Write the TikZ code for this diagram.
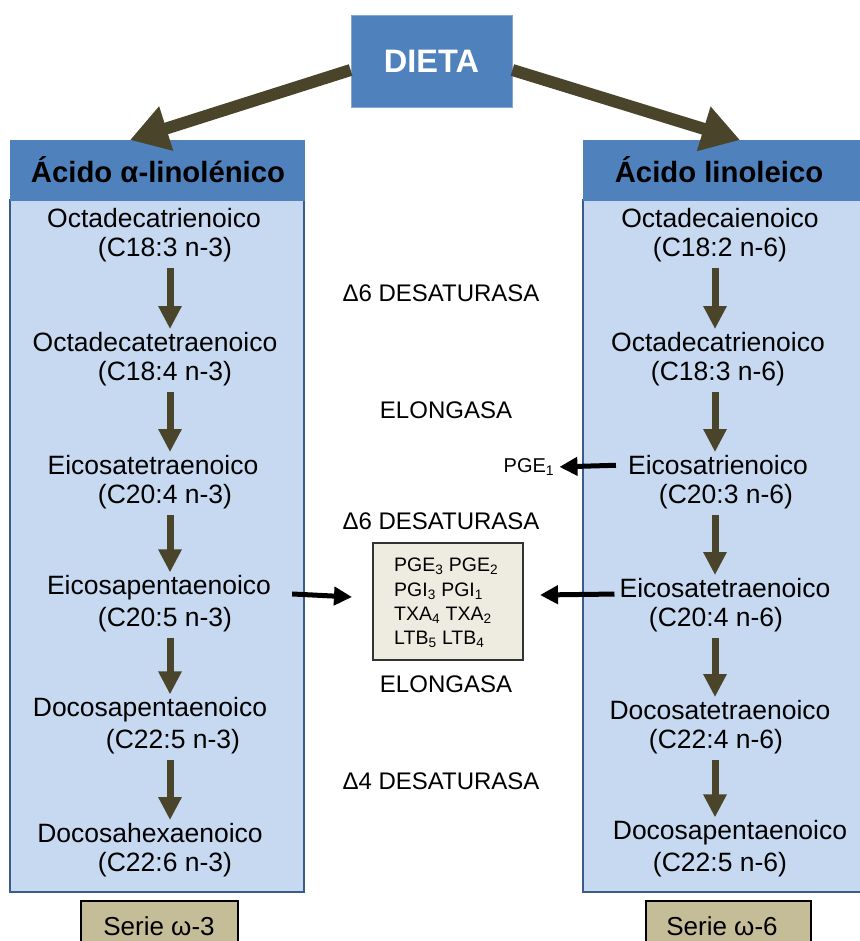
\documentclass[tikz,border=0pt]{standalone}
\usepackage{fontspec}
\setmainfont{Liberation Sans}
\usetikzlibrary{arrows.meta,calc}
\definecolor{dblue}{HTML}{4F81BD}
\definecolor{lblue}{HTML}{C6D9F1}
\definecolor{bblue}{HTML}{385D8A}
\definecolor{olivec}{HTML}{4A452A}
\definecolor{boxfill}{HTML}{EEECE1}
\definecolor{seriefill}{HTML}{C4BD97}
\begin{document}
\begin{tikzpicture}[x=1pt,y=-1pt,
  dieta/.style={fill=dblue,draw=dblue!70!white,line width=0.8pt,minimum width=161pt,minimum height=92pt,text=white,font=\fontsize{32.5}{38}\selectfont\bfseries},
  panelbody/.style={fill=lblue,draw=bblue,line width=1.5pt},
  panelhead/.style={fill=dblue,draw=dblue,line width=0.8pt,font=\fontsize{29.3}{34}\selectfont\bfseries},
  cname/.style={font=\fontsize{26.5}{31}\selectfont,inner sep=2pt},
  midlabel/.style={font=\fontsize{24}{29}\selectfont,inner sep=1pt},
  bigarrow/.style={draw=olivec,line width=12pt,-{Triangle[length=38pt,width=44pt]},fill=olivec},
  varrow/.style={draw=olivec,line width=7pt,-{Triangle[length=23pt,width=22pt]},fill=olivec},
  blkarrow/.style={draw=black,line width=5pt,-{Triangle[length=18pt,width=18pt]}},
  prodbox/.style={fill=boxfill,draw=black!80,line width=1.2pt,minimum width=150pt,minimum height=117pt,inner sep=0pt},
  seriebox/.style={fill=seriefill,draw=black,line width=1.2pt},
  serietxt/.style={font=\fontsize{26}{31}\selectfont}
]
\useasboundingbox (0,0) rectangle (859,941);

% DIETA
\node[dieta] (dieta) at (431.5,61) {DIETA};

% panels
\node[panelbody,minimum width=294pt,minimum height=692pt] (bodyL) at (157,546) {};
\node[panelhead,minimum width=294pt,minimum height=60pt] (hdrL) at (157,170) {};
\node[panelhead] (hdrLtxt) at (158,170) {Ácido α-linolénico};
\node[panelbody,minimum width=280pt,minimum height=692pt] (bodyR) at (723,546) {};
\node[panelhead,minimum width=280pt,minimum height=60pt] (hdrR) at (723,170) {};
\node[panelhead] (hdrRtxt) at (719,170) {Ácido linoleico};

% big arrows
\coordinate (tipL) at (130,140);
\coordinate (tipR) at (740,140);
\draw[bigarrow] ([yshift=-9pt]dieta.west) -- (tipL);
\draw[bigarrow] ([yshift=-9pt]dieta.east) -- (tipR);

% left column
\node[cname] (ln1) at (154,218) {Octadecatrienoico};
\node[cname] (lf1) at (165,250) {(C18:3 n-3)};
\node[cname] (ln2) at (155,342) {Octadecatetraenoico};
\node[cname] (lf2) at (165,374) {(C18:4 n-3)};
\node[cname] (ln3) at (153,465) {Eicosatetraenoico};
\node[cname] (lf3) at (165,497) {(C20:4 n-3)};
\node[cname] (ln4) at (159,588) {Eicosapentaenoico};
\node[cname] (lf4) at (165,620) {(C20:5 n-3)};
\node[cname] (ln5) at (150,710) {Docosapentaenoico};
\node[cname] (lf5) at (173,742) {(C22:5 n-3)};
\node[cname] (ln6) at (150,833) {Docosahexaenoico};
\node[cname] (lf6) at (165,865) {(C22:6 n-3)};

% right column
\node[cname] (rn1) at (720,218) {Octadecaienoico};
\node[cname] (rf1) at (720,250) {(C18:2 n-6)};
\node[cname] (rn2) at (718,342) {Octadecatrienoico};
\node[cname] (rf2) at (718,374) {(C18:3 n-6)};
\node[cname] (rn3) at (718,465) {Eicosatrienoico};
\node[cname] (rf3) at (726,497) {(C20:3 n-6)};
\node[cname] (rn4) at (725,588) {Eicosatetraenoico};
\node[cname] (rf4) at (716,620) {(C20:4 n-6)};
\node[cname] (rn5) at (720,710) {Docosatetraenoico};
\node[cname] (rf5) at (716,742) {(C22:4 n-6)};
\node[cname] (rn6) at (730,833) {Docosapentaenoico};
\node[cname] (rf6) at (720,865) {(C22:5 n-6)};

% vertical arrows
\coordinate (axL) at (170,0);
\coordinate (axR) at (715,0);
\foreach \a/\b in {1/2,2/3,3/4,4/5,5/6}{
  \draw[varrow,shorten <=3pt,shorten >=1pt] (lf\a.south -| axL) -- (ln\b.north -| axL);
  \draw[varrow,shorten <=3pt,shorten >=1pt] (rf\a.south -| axR) -- (rn\b.north -| axR);
}

% middle labels
\node[midlabel] (m1) at (441,293) {Δ6 DESATURASA};
\node[midlabel] (m2) at (446,410) {ELONGASA};
\node[midlabel] (m3) at (441,521) {Δ6 DESATURASA};
\node[midlabel] (m4) at (446,684) {ELONGASA};
\node[midlabel] (m5) at (441,781) {Δ4 DESATURASA};

% PGE1
\node[font=\fontsize{20}{24}\selectfont,inner sep=1pt] (pge1) at (529,467) {PGE\textsubscript{1}};
\draw[blkarrow,shorten >=4pt,shorten <=10pt] (rn3.west) -- (pge1.east);

% products box
\node[prodbox] (prod) at (448,601.5) {};
\node[font=\fontsize{19.5}{24.3}\selectfont,align=left,anchor=west,inner sep=0pt] (prodtxt) at (394,603)
  {PGE\textsubscript{3} PGE\textsubscript{2}\\PGI\textsubscript{3} PGI\textsubscript{1}\\TXA\textsubscript{4} TXA\textsubscript{2}\\LTB\textsubscript{5} LTB\textsubscript{4}};
\coordinate (pinL) at (352,597);
\coordinate (pinR) at (540,595);
\draw[blkarrow,shorten <=19pt] (ln4.east |- 0,593) -- (pinL);
\draw[blkarrow,shorten <=3pt] (rn4.west |- 0,594) -- (pinR);

% serie boxes
\node[seriebox,minimum width=157pt,minimum height=48pt] (s3box) at (159.5,925) {};
\node[serietxt] (s3) at (159,926) {Serie ω-3};
\node[seriebox,minimum width=165pt,minimum height=48pt] (s6box) at (728.5,925) {};
\node[serietxt] (s6) at (722,926) {Serie ω-6};
\end{tikzpicture}
\end{document}
